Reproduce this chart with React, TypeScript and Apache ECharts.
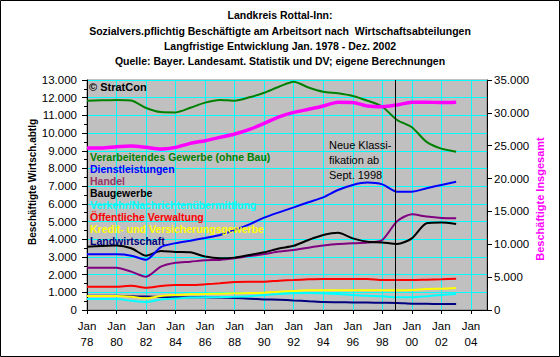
import React, { useEffect, useRef } from "react";
import * as echarts from "echarts";

const years = [1978, 1979, 1980, 1981, 1982, 1983, 1984, 1985, 1986, 1987, 1988, 1989, 1990, 1991, 1992, 1993, 1994, 1995, 1996, 1997, 1998, 1999, 2000, 2001, 2002, 2003];

const verarbeitendes = [11830, 11850, 11870, 11840, 11420, 11190, 11170, 11430, 11720, 11870, 11830, 12020, 12280, 12620, 12900, 12580, 12340, 12250, 12100, 11830, 11490, 10740, 10330, 9500, 9120, 8950];
const dienstleistungen = [3146, 3146, 3146, 3070, 2840, 3560, 3780, 3920, 4070, 4240, 4520, 4840, 5220, 5520, 5800, 6090, 6370, 6780, 7070, 7200, 7100, 6690, 6690, 6880, 7070, 7250];
const handel = [2392, 2392, 2392, 2170, 1880, 2450, 2670, 2730, 2810, 2830, 2920, 3050, 3160, 3300, 3390, 3520, 3640, 3730, 3770, 3820, 3960, 5020, 5410, 5280, 5200, 5180];
const baugewerbe = [3580, 3617, 3640, 3490, 3070, 3340, 3280, 3260, 3020, 2920, 2960, 3110, 3260, 3480, 3630, 3960, 4240, 4370, 4050, 3860, 3820, 3730, 4050, 4900, 4940, 4860];
const verkehr = [620, 620, 620, 520, 450, 600, 650, 700, 720, 730, 750, 780, 850, 900, 950, 960, 940, 900, 850, 800, 780, 720, 720, 780, 850, 900];
const verwaltung = [1319, 1319, 1319, 1375, 1262, 1356, 1413, 1413, 1450, 1507, 1582, 1600, 1600, 1658, 1695, 1733, 1752, 1752, 1752, 1752, 1695, 1695, 1695, 1714, 1733, 1770];
const kredit = [791, 791, 791, 754, 660, 791, 848, 885, 904, 920, 942, 960, 980, 1036, 1074, 1111, 1111, 1111, 1111, 1111, 1111, 1111, 1130, 1187, 1206, 1243];
const landwirtschaft = [800, 800, 800, 780, 760, 740, 720, 720, 720, 700, 680, 640, 600, 580, 540, 500, 450, 440, 430, 420, 410, 400, 360, 350, 340, 340];
const insgesamt = [24650, 24650, 24850, 24960, 24750, 24490, 24750, 25360, 25760, 26270, 26780, 27490, 28400, 29400, 30080, 30540, 31040, 31620, 31570, 31040, 30940, 31200, 31620, 31620, 31570, 31620];

const titleLines = [
  "Landkreis Rottal-Inn:",
  "Sozialvers.pflichtig Beschäftigte am Arbeitsort nach  Wirtschaftsabteilungen",
  "Langfristige Entwicklung Jan. 1978 - Dez. 2002",
  "Quelle: Bayer. Landesamt. Statistik und DV; eigene Berechnungen",
];

const legendNames = [
  "Verarbeitendes Gewerbe (ohne Bau)",
  "Dienstleistungen",
  "Handel",
  "Baugewerbe",
  "Verkehr/Nachrichtenübermittlung",
  "Öffentliche Verwaltung",
  "Kredit- und Versicherungsgewerbe",
  "Landwirtschaft",
];
const legendColors = ["#008000", "#0000FF", "#993366", "#000000", "#00FFFF", "#FF0000", "#FFFF00", "#000080"];

const annotationLines = ["Neue Klassi-", "fikation ab", "Sept. 1998"];
const klassifikationJahr = 1998.9;

const FONT = "'Liberation Sans', Arial, sans-serif";

function pairs(vals: number[]) {
  return vals.map((v, i) => [years[i], v]);
}

function fmtThousands(v: number) {
  if (v === 0) return "0";
  const s = String(Math.round(v));
  return s.replace(/\B(?=(\d{3})+(?!\d))/g, ".");
}

export default function App() {
  const ref = useRef<HTMLDivElement>(null);
  useEffect(() => {
    if (!ref.current) return;
    const chart = echarts.init(ref.current, undefined, { renderer: "svg" });

    const lineSeries = (name: string, data: number[], color: string, width: number, yIndex = 0, extra: any = {}) => ({
      type: "line",
      name,
      data: pairs(data),
      yAxisIndex: yIndex,
      showSymbol: false,
      symbol: "none",
      smooth: 0.25,
      lineStyle: { color, width },
      itemStyle: { color },
      ...extra,
    });

    const graphics: any[] = [];
    graphics.push({
      type: "rect",
      shape: { x: 0.5, y: 0.5, width: 559, height: 356 },
      style: { fill: "none", stroke: "#000", lineWidth: 1 },
      silent: true,
      z: 100,
    });
    const titleY = [15, 31, 46, 61];
    titleLines.forEach((t, i) => {
      graphics.push({
        type: "text",
        x: 280,
        y: titleY[i],
        style: { text: t, font: `bold 10.5px ${FONT}`, fill: "#000", align: "center", verticalAlign: "middle" },
      });
    });
    const legY = [157, 169, 181, 193, 205, 217, 229, 241];
    legendNames.forEach((t, i) => {
      graphics.push({
        type: "text",
        x: 90,
        y: legY[i],
        z: 50,
        style: { text: t, font: `bold 10.5px ${FONT}`, fill: legendColors[i], align: "left", verticalAlign: "middle" },
      });
    });
    graphics.push({
      type: "text",
      x: 89,
      y: 87,
      z: 50,
      style: { text: "© StratCon", font: `bold 11px ${FONT}`, fill: "#000", align: "left", verticalAlign: "middle" },
    });
    const annY = [145, 160, 175];
    annotationLines.forEach((t, i) => {
      graphics.push({
        type: "text",
        x: 329,
        y: annY[i],
        z: 50,
        style: { text: t, font: `11px ${FONT}`, fill: "#000", align: "left", verticalAlign: "middle" },
      });
    });
    graphics.push({
      type: "text",
      x: 32,
      y: 182,
      rotation: Math.PI / 2,
      style: { text: "Beschäftigte Wirtsch.abtlg", font: `bold 10px ${FONT}`, fill: "#000", align: "center", verticalAlign: "middle" },
    });
    graphics.push({
      type: "text",
      x: 540,
      y: 199,
      rotation: Math.PI / 2,
      style: { text: "Beschäftigte Insgesamt", font: `bold 11px ${FONT}`, fill: "#FF00FF", align: "center", verticalAlign: "middle" },
    });

    chart.setOption({
      animation: false,
      backgroundColor: "#FFFFFF",
      grid: {
        left: 87,
        right: 73,
        top: 80,
        bottom: 47,
        show: true,
        backgroundColor: "#C0C0C0",
        borderColor: "#808080",
        borderWidth: 1,
      },
      xAxis: {
        type: "value",
        min: 1978,
        max: 2005.09,
        interval: 2,
        axisLine: { show: true, onZero: false, lineStyle: { color: "#000", width: 1 } },
        axisTick: { show: true, length: 4, lineStyle: { color: "#000" } },
        axisLabel: {
          color: "#000",
          fontFamily: FONT,
          fontSize: 11.5,
          lineHeight: 16,
          margin: 8,
          showMaxLabel: false,
          formatter: (v: number) => {
            if (Math.abs(v - Math.round(v)) > 1e-6 || Math.round(v) % 2 !== 0 || v > 2004.5) return "";
            return "Jan\n" + String(Math.round(v) % 100).padStart(2, "0");
          },
        },
        splitLine: { show: true, lineStyle: { color: "#00FFFF", width: 1 } },
      },
      yAxis: [
        {
          type: "value",
          min: 0,
          max: 13000,
          interval: 1000,
          position: "left",
          axisLine: { show: true, lineStyle: { color: "#000" } },
          axisTick: { show: true, length: 5, lineStyle: { color: "#000" } },
          minorTick: { show: true, splitNumber: 2, length: 3, lineStyle: { color: "#000" } },
          axisLabel: { color: "#000", fontFamily: FONT, fontSize: 11.5, margin: 10, formatter: fmtThousands },
          splitLine: { show: true, lineStyle: { color: "#00FFFF", width: 1 } },
        },
        {
          type: "value",
          min: 0,
          max: 35000,
          interval: 5000,
          position: "right",
          axisLine: { show: true, lineStyle: { color: "#000" } },
          axisTick: { show: true, length: 5, lineStyle: { color: "#000" } },
          axisLabel: { color: "#000", fontFamily: FONT, fontSize: 11.5, margin: 7, formatter: fmtThousands },
          splitLine: { show: false },
        },
      ],
      series: [
        lineSeries("Landwirtschaft", landwirtschaft, "#000080", 2),
        lineSeries("Verkehr/Nachrichtenübermittlung", verkehr, "#00FFFF", 2),
        lineSeries("Kredit- und Versicherungsgewerbe", kredit, "#FFFF00", 2),
        lineSeries("Öffentliche Verwaltung", verwaltung, "#FF0000", 2),
        lineSeries("Handel", handel, "#800080", 2),
        lineSeries("Baugewerbe", baugewerbe, "#000000", 2),
        lineSeries("Dienstleistungen", dienstleistungen, "#0000FF", 2),
        lineSeries("Verarbeitendes Gewerbe (ohne Bau)", verarbeitendes, "#008000", 2, 0, {
          markLine: {
            silent: true,
            symbol: "none",
            label: { show: false },
            lineStyle: { color: "#000", width: 1, type: "solid" },
            data: [{ xAxis: klassifikationJahr }],
          },
        }),
        lineSeries("Beschäftigte Insgesamt", insgesamt, "#FF00FF", 3.5, 1),
      ],
      graphic: graphics,
    });

    return () => chart.dispose();
  }, []);

  return (
    <div
      ref={ref}
      style={{ position: "absolute", left: 0, top: 0, width: 560, height: 357 }}
    />
  );
}
